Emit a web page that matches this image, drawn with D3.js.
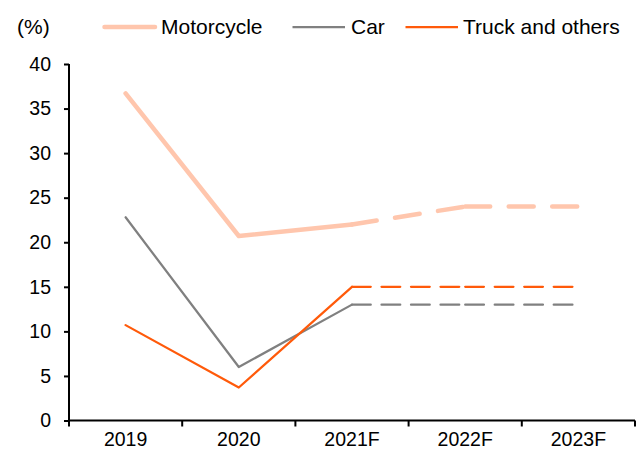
<!DOCTYPE html>
<html>
<head>
<meta charset="utf-8">
<script src="https://cdn.jsdelivr.net/npm/d3@7"></script>
<style>
  body { margin: 0; background: #fff; }
  svg { display: block; font-family: Arial, "Liberation Sans", sans-serif; }
</style>
</head>
<body>
<svg id="chart" width="643" height="454"></svg>
<script>
// data
const years = ["2019", "2020", "2021F", "2022F", "2023F"];
const motorcycle = [36.7, 20.7, 22.0, 24.0, 24.0];
const car = [22.8, 6.0, 13.0, 13.0, 13.0];
const truck = [10.7, 3.7, 15.0, 15.0, 15.0];
const yTicks = [0, 5, 10, 15, 20, 25, 30, 35, 40];
const lastActual = 2; // index of 2021F, dashed from here on

const series = [
  { name: "Motorcycle", values: motorcycle, color: "#ffc6ad", width: 4.5, dash: "25,18.5" },
  { name: "Car", values: car, color: "#808080", width: 2.25, dash: "18.75,10.75" },
  { name: "Truck and others", values: truck, color: "#ff5a0a", width: 2.25, dash: "18.75,10.75" }
];

const svg = d3.select("#chart");
const margin = { left: 69, right: 8, top: 64, bottom: 33.5 };
const W = 643, H = 454;

const x = d3.scaleBand().domain(years).range([margin.left, W - margin.right]);
const y = d3.scaleLinear().domain([0, 40]).range([H - margin.bottom, margin.top]);

const line = d3.line()
  .x(d => x(years[d.i]) + x.bandwidth() / 2)
  .y(d => y(d.v));

series.forEach(s => {
  const pts = s.values.map((v, i) => ({ v, i }));
  // actual part, solid
  svg.append("path")
    .attr("d", line(pts.slice(0, lastActual + 1)))
    .attr("fill", "none")
    .attr("stroke", s.color)
    .attr("stroke-width", s.width)
    .attr("stroke-linejoin", "round")
    .attr("stroke-linecap", "round");
  // forecast part, dashed; pattern restarts on every segment
  for (let i = lastActual; i < pts.length - 1; i++) {
    svg.append("path")
      .attr("d", line([pts[i], pts[i + 1]]))
      .attr("fill", "none")
      .attr("stroke", s.color)
      .attr("stroke-width", s.width)
      .attr("stroke-dasharray", s.dash)
      .attr("stroke-linecap", "round");
  }
});

// axes
const yAxis = svg.append("g")
  .attr("transform", `translate(${margin.left},0)`)
  .call(d3.axisLeft(y).tickValues(yTicks).tickSize(5).tickPadding(13));
const xAxis = svg.append("g")
  .attr("transform", `translate(0,${y(0)})`)
  .call(d3.axisBottom(x).tickSize(0).tickPadding(12));

// x ticks sit on band boundaries
xAxis.selectAll(".tick line").remove();
const bounds = years.map(d => x(d)).concat([x(years[years.length - 1]) + x.bandwidth()]);
xAxis.selectAll(".bound")
  .data(bounds)
  .join("line")
  .attr("x1", d => d).attr("x2", d => d)
  .attr("y1", 0).attr("y2", 6)
  .attr("stroke", "#000").attr("stroke-width", 2);

[yAxis, xAxis].forEach(g => {
  g.select(".domain").attr("stroke", "#000").attr("stroke-width", 2);
  g.selectAll(".tick line").attr("stroke", "#000").attr("stroke-width", 2);
  g.selectAll(".tick text").attr("fill", "#000").style("font-size", "19.5px")
    .style("font-family", "Arial, 'Liberation Sans', sans-serif");
});
xAxis.select(".domain").attr("d", `M${margin.left},0H${W - margin.right}`);
yAxis.select(".domain").attr("d", `M0,${y(40)}V${y(0)}`);

// unit label
svg.append("text")
  .attr("x", 17).attr("y", 34)
  .style("font-size", "21px")
  .text("(%)");

// legend
const legendLine = [[104.5, 155], [292.5, 345], [405.5, 458]];
const legendText = [161, 351, 463];
const legend = svg.append("g");
series.forEach((s, i) => {
  legend.append("line")
    .attr("x1", legendLine[i][0]).attr("x2", legendLine[i][1])
    .attr("y1", 27).attr("y2", 27)
    .attr("stroke", s.color)
    .attr("stroke-width", s.width)
    .attr("stroke-linecap", i === 0 ? "round" : "butt");
  legend.append("text")
    .attr("x", legendText[i]).attr("y", 34)
    .style("font-size", "21px")
    .text(s.name);
});
</script>
</body>
</html>
